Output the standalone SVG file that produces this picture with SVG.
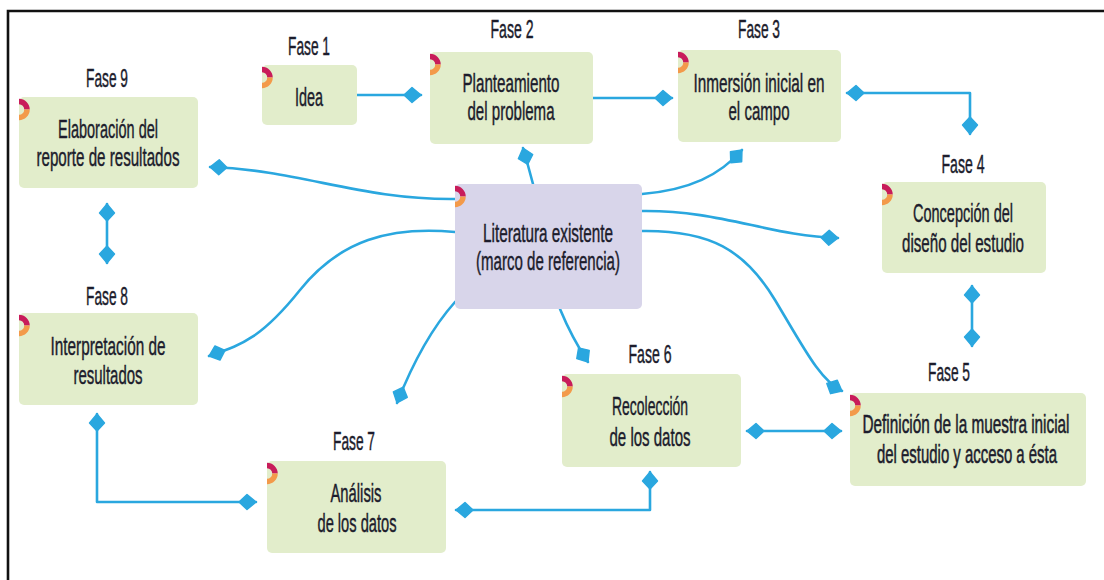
<svg xmlns="http://www.w3.org/2000/svg" width="1104" height="580" viewBox="0 0 1104 580">
<style>
.box{fill:#e2edcb}
.lit{fill:#d8d5ea}
.t{font-family:"Liberation Sans",Arial,sans-serif;font-size:26px;fill:#1c1c2c;text-anchor:middle;stroke:#1c1c2c;stroke-width:0.45}
.s{font-size:25px}
.xs{font-size:17.5px;stroke-width:0.38}
.c{fill:none;stroke:#2aa7df;stroke-width:2.6;stroke-linecap:round;stroke-linejoin:round}
.e{marker-end:url(#ah)}
.b{marker-start:url(#ah);marker-end:url(#ah)}
.m1{fill:none;stroke:#c81c5a;stroke-width:5.5}
.m2{fill:none;stroke:#f39a4a;stroke-width:5.5}
</style>
<defs>
<marker id="ah" markerUnits="userSpaceOnUse" viewBox="-19 -10 20 20" refX="0" refY="0" markerWidth="20" markerHeight="20" orient="auto-start-reverse">
<path d="M0,0 L-9,-7.5 L-17,0 L-9,7.5 Z" fill="#2aa7df" stroke="#2aa7df" stroke-width="1.4" stroke-linejoin="round"/>
</marker>
<g id="mark">
<path class="m1" d="M0,4.5 A8,8 0 0 1 8,12.5"/>
<path class="m2" d="M8,12.5 A8,8 0 0 1 0,20.5"/>
</g>
</defs>
<rect width="1104" height="580" fill="#ffffff"/>
<path d="M8,582 V11 H1106" fill="none" stroke="#111111" stroke-width="2.6"/>

<g id="connectors">
<path class="c e" d="M357,95 L421,95"/>
<path class="c e" d="M593,98 L672,98"/>
<path class="c b" d="M847,93 H970 V134"/>
<path class="c b" d="M972,286 V346"/>
<path class="c b" d="M747,431 H841"/>
<path class="c b" d="M650,472 V510 H456"/>
<path class="c b" d="M97,414 V502 H256"/>
<path class="c b" d="M107,204 V263"/>
<path class="c e" d="M533,184 Q528,165 523,148"/>
<path class="c e" d="M642,194 C690,190 720,175 742,150"/>
<path class="c e" d="M455,199 C360,200 300,170 210,167"/>
<path class="c e" d="M455,232 C390,226 340,240 300,290 S240,345 209,356"/>
<path class="c e" d="M455,302 C430,330 410,370 397,403"/>
<path class="c e" d="M560,309 Q572,338 588,362"/>
<path class="c e" d="M642,211 C720,210 770,236 838,238"/>
<path class="c e" d="M642,231 C710,230 745,250 775,300 S820,380 842,391"/>
</g>

<g id="fase1">
<text class="t" x="309" y="55" textLength="42" lengthAdjust="spacingAndGlyphs">Fase 1</text>
<rect class="box" x="262" y="65" width="95" height="60" rx="5"/>
<use href="#mark" x="262" y="65"/>
<text class="t" x="309" y="106" textLength="28" lengthAdjust="spacingAndGlyphs">Idea</text>
</g>

<g id="fase2">
<text class="t" x="512" y="38" textLength="43" lengthAdjust="spacingAndGlyphs">Fase 2</text>
<rect class="box" x="430" y="52" width="163" height="92" rx="5"/>
<use href="#mark" x="430" y="52"/>
<text class="t" x="511" y="92" textLength="97" lengthAdjust="spacingAndGlyphs">Planteamiento</text>
<text class="t" x="511" y="120" textLength="87" lengthAdjust="spacingAndGlyphs">del problema</text>
</g>

<g id="fase3">
<text class="t" x="759" y="38" textLength="42" lengthAdjust="spacingAndGlyphs">Fase 3</text>
<rect class="box" x="678" y="50" width="163" height="92" rx="5"/>
<use href="#mark" x="678" y="50"/>
<text class="t" x="759" y="92" textLength="131" lengthAdjust="spacingAndGlyphs">Inmersión inicial en</text>
<text class="t" x="759" y="120" textLength="61" lengthAdjust="spacingAndGlyphs">el campo</text>
</g>

<g id="fase4">
<text class="t" x="963" y="173" textLength="43" lengthAdjust="spacingAndGlyphs">Fase 4</text>
<rect class="box" x="882" y="182" width="164" height="91" rx="5"/>
<use href="#mark" x="882" y="182"/>
<text class="t" x="963" y="222" textLength="100" lengthAdjust="spacingAndGlyphs">Concepción del</text>
<text class="t s" x="963" y="252" textLength="122" lengthAdjust="spacingAndGlyphs">diseño del estudio</text>
</g>

<g id="fase5">
<text class="t" x="949" y="381" textLength="42" lengthAdjust="spacingAndGlyphs">Fase 5</text>
<rect class="box" x="850" y="393" width="236" height="93" rx="5"/>
<use href="#mark" x="850" y="393"/>
<text class="t xs" transform="translate(966,433) scale(1,1.45)" x="0" y="0" textLength="207" lengthAdjust="spacingAndGlyphs">Definición de la muestra inicial</text>
<text class="t xs" transform="translate(967,463) scale(1,1.45)" x="0" y="0" textLength="180" lengthAdjust="spacingAndGlyphs">del estudio y acceso a ésta</text>
</g>

<g id="fase6">
<text class="t" x="650" y="363" textLength="43" lengthAdjust="spacingAndGlyphs">Fase 6</text>
<rect class="box" x="562" y="374" width="179" height="93" rx="5"/>
<use href="#mark" x="562" y="374"/>
<text class="t" x="650" y="415" textLength="76" lengthAdjust="spacingAndGlyphs">Recolección</text>
<text class="t" x="650" y="446" textLength="81" lengthAdjust="spacingAndGlyphs">de los datos</text>
</g>

<g id="fase7">
<text class="t" x="354" y="450" textLength="42" lengthAdjust="spacingAndGlyphs">Fase 7</text>
<rect class="box" x="267" y="461" width="179" height="92" rx="5"/>
<use href="#mark" x="267" y="461"/>
<text class="t" x="356" y="502" textLength="51" lengthAdjust="spacingAndGlyphs">Análisis</text>
<text class="t" x="357" y="532" textLength="79" lengthAdjust="spacingAndGlyphs">de los datos</text>
</g>

<g id="fase8">
<text class="t" x="107" y="305" textLength="42" lengthAdjust="spacingAndGlyphs">Fase 8</text>
<rect class="box" x="19" y="313" width="179" height="92" rx="5"/>
<use href="#mark" x="19" y="313"/>
<text class="t" x="108" y="355" textLength="115" lengthAdjust="spacingAndGlyphs">Interpretación de</text>
<text class="t" x="108" y="384" textLength="69" lengthAdjust="spacingAndGlyphs">resultados</text>
</g>

<g id="fase9">
<text class="t" x="107" y="87" textLength="42" lengthAdjust="spacingAndGlyphs">Fase 9</text>
<rect class="box" x="19" y="97" width="179" height="91" rx="5"/>
<use href="#mark" x="19" y="97"/>
<text class="t" x="108" y="138" textLength="100" lengthAdjust="spacingAndGlyphs">Elaboración del</text>
<text class="t" x="108" y="166" textLength="143" lengthAdjust="spacingAndGlyphs">reporte de resultados</text>
</g>

<g id="literatura">
<rect class="lit" x="455" y="184" width="187" height="125" rx="5"/>
<use href="#mark" x="455" y="184"/>
<text class="t" x="548" y="242" textLength="130" lengthAdjust="spacingAndGlyphs">Literatura existente</text>
<text class="t" x="548" y="270" textLength="144" lengthAdjust="spacingAndGlyphs">(marco de referencia)</text>
</g>
</svg>
